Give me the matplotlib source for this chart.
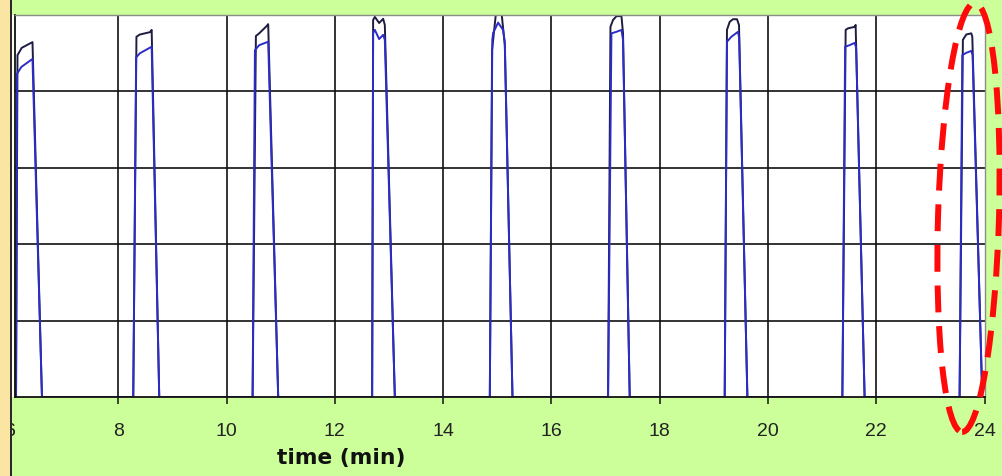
import matplotlib
matplotlib.use("Agg")
import matplotlib.pyplot as plt
from matplotlib.patches import Ellipse, Rectangle

# ---- data: two recorded traces (time in minutes, value) ----
# one row per heating pulse
t_dark = [6.000, 6.112, 6.139, 6.217, 6.416, 6.591,
          8.277, 8.336, 8.401, 8.585, 8.617, 8.757,
          10.481, 10.542, 10.603, 10.740, 10.769, 10.954,
          12.689, 12.707, 12.739, 12.818, 12.892, 12.923, 13.108,
          14.862, 14.904, 14.972, 15.028, 15.083, 15.139, 15.281,
          17.046, 17.090, 17.138, 17.201, 17.293, 17.322, 17.446,
          19.200, 19.242, 19.292, 19.353, 19.427, 19.464, 19.619,
          21.373, 21.434, 21.476, 21.600, 21.618, 21.784,
          23.538, 23.599, 23.662, 23.754, 23.773, 23.957, 24.000]
v_dark = [0, 0, 89.5, 91.4, 92.9, 0,
          0, 94.3, 94.9, 95.5, 96.1, 0,
          0, 94.5, 95.2, 97.1, 97.6, 0,
          0, 98.7, 99.5, 97.9, 99.0, 97.4, 0,
          0, 90.8, 100.0, 102.6, 100.0, 92.1, 0,
          0, 96.9, 98.7, 99.7, 99.7, 95.3, 0,
          0, 96.1, 98.2, 98.9, 98.9, 97.4, 0,
          0, 96.1, 96.5, 96.9, 97.4, 0,
          0, 93.5, 94.9, 95.2, 94.3, 0, 0]

t_blue = [6.000, 6.112, 6.130, 6.210, 6.416, 6.591,
          8.277, 8.330, 8.401, 8.617, 8.757,
          10.481, 10.524, 10.603, 10.769, 10.954,
          12.689, 12.707, 12.739, 12.818, 12.892, 12.923, 13.108,
          14.862, 14.908, 14.923, 15.015, 15.107, 15.139, 15.281,
          17.046, 17.108, 17.201, 17.293, 17.322, 17.446,
          19.200, 19.242, 19.323, 19.445, 19.467, 19.619,
          21.373, 21.424, 21.507, 21.600, 21.628, 21.784,
          23.538, 23.588, 23.662, 23.754, 23.778, 23.957, 24.000]
v_blue = [0, 0, 84.6, 86.4, 88.5, 0,
          0, 88.9, 90.0, 91.7, 0,
          0, 90.8, 92.1, 93.0, 0,
          0, 95.3, 96.1, 93.7, 94.8, 93.5, 0,
          0, 93.5, 95.3, 98.0, 96.1, 92.9, 0,
          0, 95.2, 95.6, 96.1, 93.5, 0,
          0, 93.0, 94.3, 95.6, 94.0, 0,
          0, 91.7, 92.1, 92.7, 91.4, 0,
          0, 89.5, 90.1, 90.6, 89.5, 0, 0]

x_ticks = [6, 8, 10, 12, 14, 16, 18, 20, 22, 24]
x_tick_labels = [str(v) for v in x_ticks]
y_grid = [20, 40, 60, 80]
x_label = "time (min)"

# ---- figure layout (pixel based) ----
W, H, DPI = 1002, 476, 100
GREEN = "#ccff99"
fig = plt.figure(figsize=(W / DPI, H / DPI), dpi=DPI, facecolor=GREEN)

L, R, T, B = 15, 984.6, 15, 397
ax = fig.add_axes([L / W, (H - B) / H, (R - L) / W, (B - T) / H])
ax.set_facecolor("white")

ax.plot(t_dark, v_dark, color="#1c1c44", lw=1.4, zorder=3)
ax.plot(t_blue, v_blue, color="#2c2cc8", lw=1.4, zorder=3.1)

for yv in y_grid:
    ax.axhline(yv, color="#111111", lw=1.2, zorder=1)
for xv in x_ticks[1:-1]:
    ax.axvline(xv, color="#111111", lw=1.2, zorder=1)

TICK_LEN, TICK_PAD, TICK_SIZE = 5, 13.5, 14
ax.set_xticks(x_ticks)
ax.set_xticklabels(x_tick_labels, family="Liberation Sans")
ax.set_yticks([])
ax.tick_params(axis="x", direction="out", length=TICK_LEN, width=1.1,
               color="#111111", pad=TICK_PAD, labelsize=TICK_SIZE,
               labelcolor="#222222")

# the time window starts just after 6 min
ax.set_xlim(6.093, 24.0)
ax.set_ylim(0, 100)

# first tick label sits left of the window, partly hidden by the frame strip
ax.annotate(x_tick_labels[0], xy=(x_ticks[0], 0), xycoords=("data", "axes fraction"),
            xytext=(0, -(TICK_LEN + TICK_PAD)), textcoords="offset points",
            ha="center", va="top", fontsize=TICK_SIZE, family="Liberation Sans",
            color="#222222", annotation_clip=False)

for side in ("left", "bottom"):
    ax.spines[side].set_color("#111111")
    ax.spines[side].set_linewidth(1.3)
    ax.spines[side].set_zorder(4)
for side in ("top", "right"):
    ax.spines[side].set_color("#8c8c8c")
    ax.spines[side].set_linewidth(1.0)
    ax.spines[side].set_zorder(4)

fig.text(341 / W, (H - 464) / H, x_label, ha="center", va="baseline",
         fontsize=15.7, fontweight="bold", family="DejaVu Sans", color="#111111")

# ---- overlay: left border strip and highlight ellipse ----
ov = fig.add_axes([0, 0, 1, 1])
ov.set_xlim(0, W)
ov.set_ylim(0, H)
ov.axis("off")
ov.patch.set_alpha(0)
ov.add_patch(Rectangle((0, 0), 10.3, H, facecolor="#fbe5a2", edgecolor="none"))
ov.add_patch(Rectangle((10.3, 0), 1.9, H, facecolor="#2a2a2a", edgecolor="none"))
ov.add_patch(Rectangle((12.2, H - B), 2.0, B - T, facecolor="#fbfdf6", edgecolor="none"))
ov.add_patch(Ellipse((968.5, H - 217.5), 61, 429, angle=-1.7, fill=False,
                     edgecolor="#ff0a0a", lw=4.3, linestyle=(0, (4.5, 2.3))))

fig.savefig("out.png", dpi=DPI, facecolor=GREEN)
